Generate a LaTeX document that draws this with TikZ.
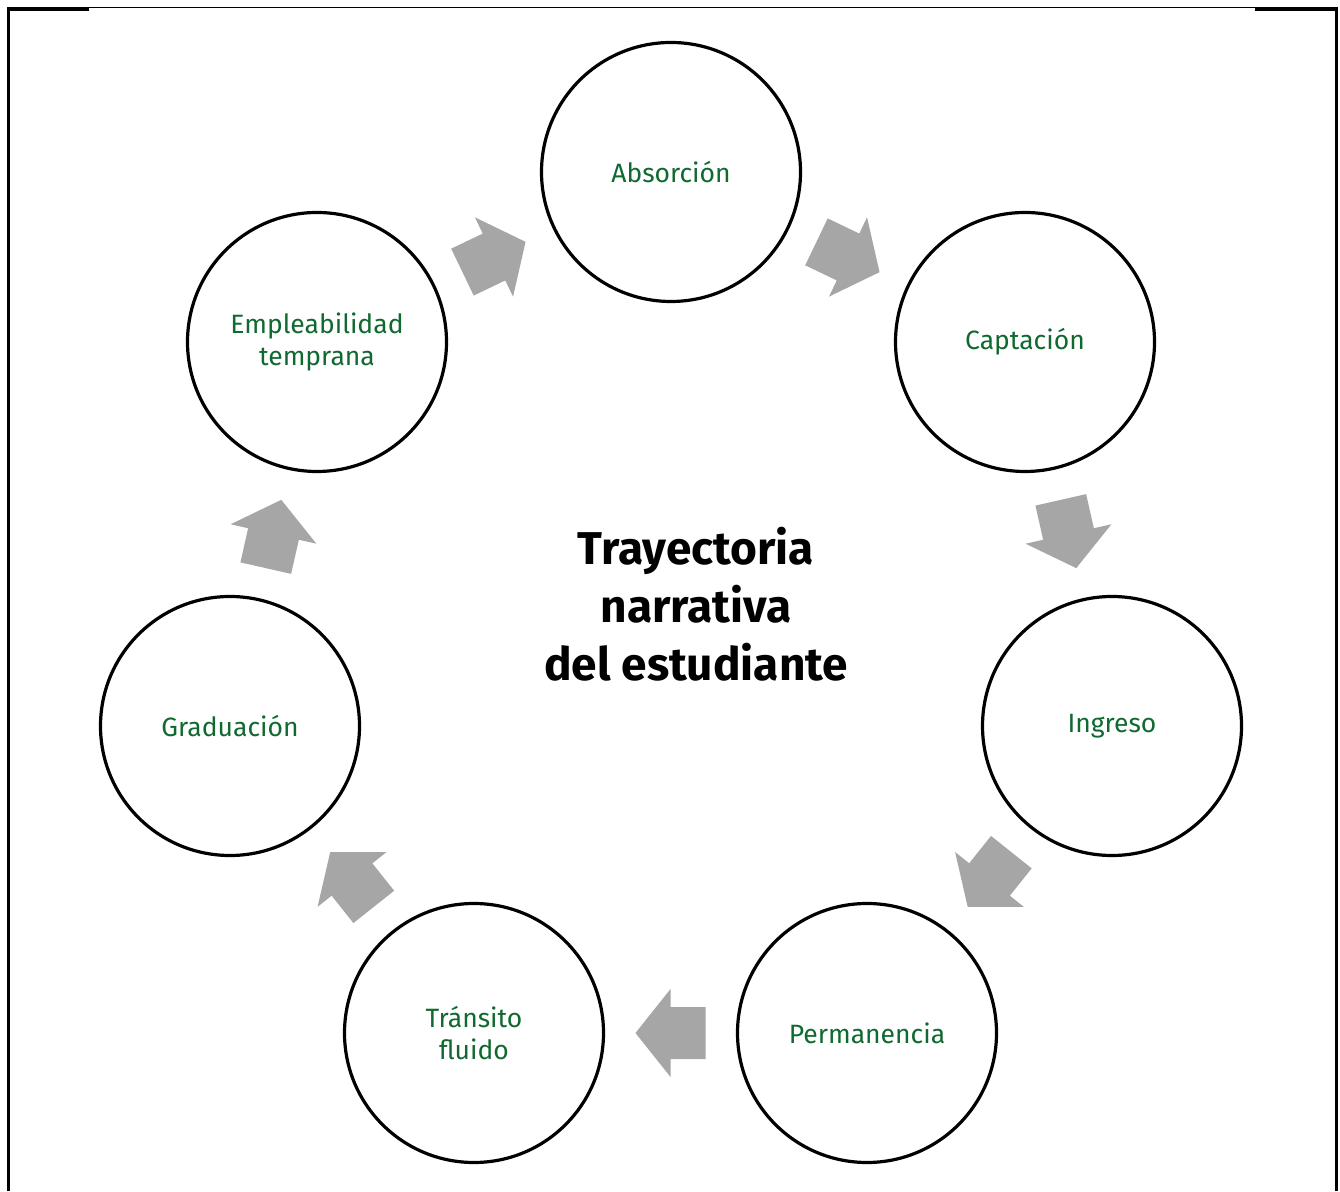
\documentclass[tikz,border=0pt]{standalone}
\usepackage{fontspec}
\setmainfont{Fira Sans}
\usetikzlibrary{positioning}
\definecolor{verde_etapa}{RGB}{16,105,48}
\definecolor{gris_flecha}{RGB}{166,166,166}

\tikzset{
	flecha/.pic={
		\fill[gris_flecha] (-35pt,-26pt) -- (0pt,-26pt) -- (0pt,-44pt) -- (35pt,0pt) -- (0pt,44pt) -- (0pt,26pt) -- (-35pt,26pt) -- cycle;
	}
}

\begin{document}
\begin{tikzpicture}[x=1pt,y=1pt,
	etapa/.style={draw,circle,line width=3.2pt,minimum size=259pt,inner sep=0pt,align=center,text=verde_etapa,font=\fontsize{26.5}{32}\selectfont}]

\useasboundingbox (0,0) rectangle (1340,1191);

\draw[line width=1pt] (7,1183) -- (1338,1183);
\draw[line width=3pt] (7,1181.5) -- (89,1181.5) (1255,1181.5) -- (1338,1181.5);
\draw[line width=3pt] (8.5,1183) -- (8.5,0) (1336.5,1183) -- (1336.5,0);


\node[etapa] (absorc) at (671,1019) {Absorción};

\node[etapa] (captac) at (1025,849) {Captación};

\node[etapa] (ingreso) at (1112,465) {Ingreso};

\node[etapa] (perman) at (867,158) {Permanencia};

\node[etapa] (transito) at (474,158) {Tránsito\\fluido};

\node[etapa] (gradua) at (230,465) {Graduación};

\node[etapa] (empl_temp) at (317,849) {Empleabilidad\\temprana};


\node[align=center,font=\fontsize{46}{58}\selectfont\bfseries] (titulo) at (696,587) {Trayectoria\\narrativa\\del estudiante};


\path (empl_temp) -- pic[sloped,allow upside down] {flecha} (absorc);
\path (absorc) -- pic[sloped,allow upside down] {flecha} (captac);
\path (captac) -- pic[sloped,allow upside down] {flecha} (ingreso);
\path (ingreso) -- pic[sloped,allow upside down] {flecha} (perman);
\path (perman) -- pic[sloped,allow upside down] {flecha} (transito);
\path (transito) -- pic[sloped,allow upside down] {flecha} (gradua);
\path (gradua) -- pic[sloped,allow upside down] {flecha} (empl_temp);

\end{tikzpicture}
\end{document}
